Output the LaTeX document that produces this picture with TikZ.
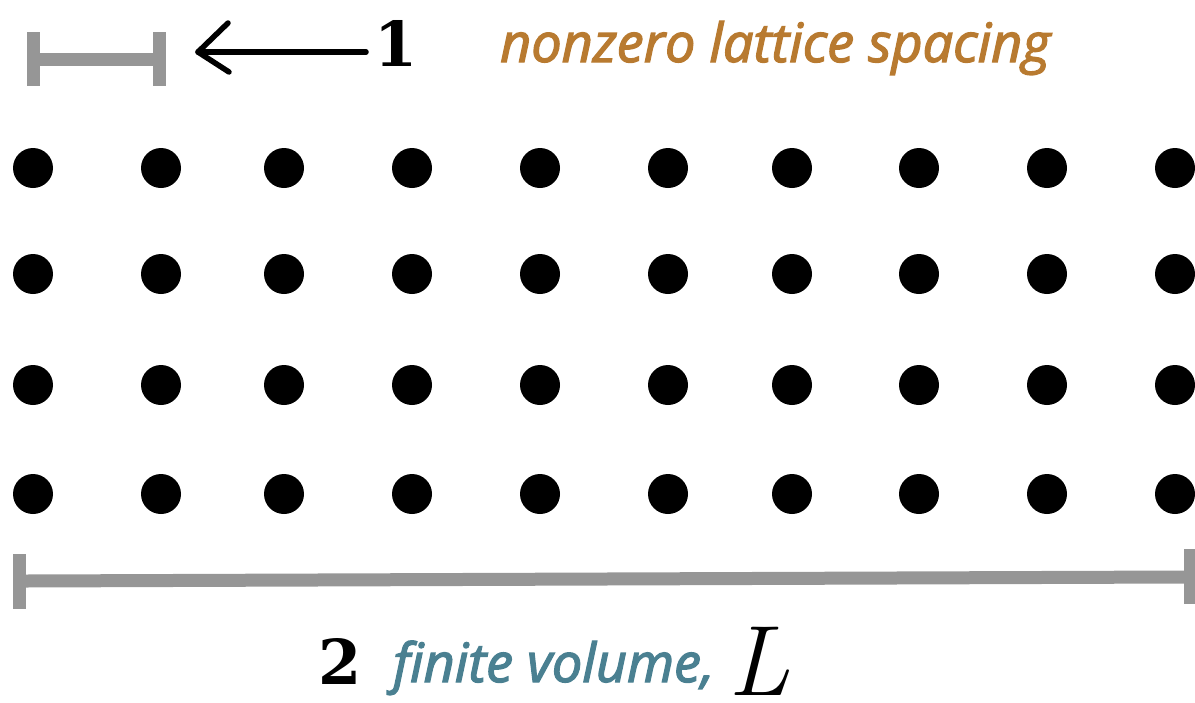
\documentclass[tikz,border=0pt]{standalone}
\usepackage{fontspec}
\setmainfont{Open Sans}
\newfontfamily\labfont{Open Sans}
\newfontfamily\handfont{DejaVu Serif}
\newfontfamily\lmfont{Latin Modern Roman}
\newcommand\heavytext[1]{\special{pdf:literal direct 2 Tr 1.3 w}#1\special{pdf:literal direct 0 Tr}}
\usetikzlibrary{positioning}
\definecolor{bargray}{HTML}{969696}
\definecolor{latorange}{HTML}{B87A30}
\definecolor{volteal}{HTML}{4A8091}
\tikzset{
  site/.style={circle,fill=black,inner sep=0pt,minimum size=40pt},
  bar/.style={draw=bargray,line width=13pt},
  label1/.style={font=\labfont\fontsize{54}{54}\selectfont\itshape,inner sep=0pt,anchor=base west},
  handnum/.style={font=\handfont\bfseries\fontsize{62}{62}\selectfont,inner sep=0pt,anchor=base west},
  handline/.style={draw=black,line width=5.5pt,line cap=round,line join=round}
}
\begin{document}
\begin{tikzpicture}[x=1pt,y=-1pt]
\useasboundingbox (0,0) rectangle (1195,702);
% lattice sites
\foreach \c/\x in {1/33,2/161,3/284,4/412,5/540,6/668,7/792,8/919,9/1047,10/1175}{
  \foreach \r/\y in {1/168,2/274,3/385,4/494}{
    \node[site] (s\r-\c) at (\x,\y) {};
  }
}
% top spacing bar
\draw[bar,line cap=butt] (27,59) -- (166,59);
\draw[bar] (33.5,32) -- (33.5,86);
\draw[bar] (159.5,32) -- (159.5,86);
% bottom volume bar
\draw[bar] (26,581) -- (1184,577);
\draw[bar] (19.5,554) -- (19.5,609);
\draw[bar] (1190.5,549) -- (1190.5,604);
% annotation 1
\node[handnum] (one) at (374,66) {1};
\coordinate (tip) at (198,52);
\draw[handline] (one.west |- tip) ++(-8,0) coordinate (tail) -- (tip);
\draw[handline] (228,23) -- (tip) -- (229,72);
\node[label1,text=latorange] (lat) at (500,62) {\heavytext{nonzero lattice spacing}};
% annotation 2
\node[handnum] (two) at (318,684) {2};
\node[label1,text=volteal] (vol) at (393,682) {\heavytext{finite volume,}};
\node[inner sep=0pt,anchor=base west,font=\lmfont\itshape\fontsize{100}{100}\selectfont] (L) at (728,695) {L};
\end{tikzpicture}
\end{document}
